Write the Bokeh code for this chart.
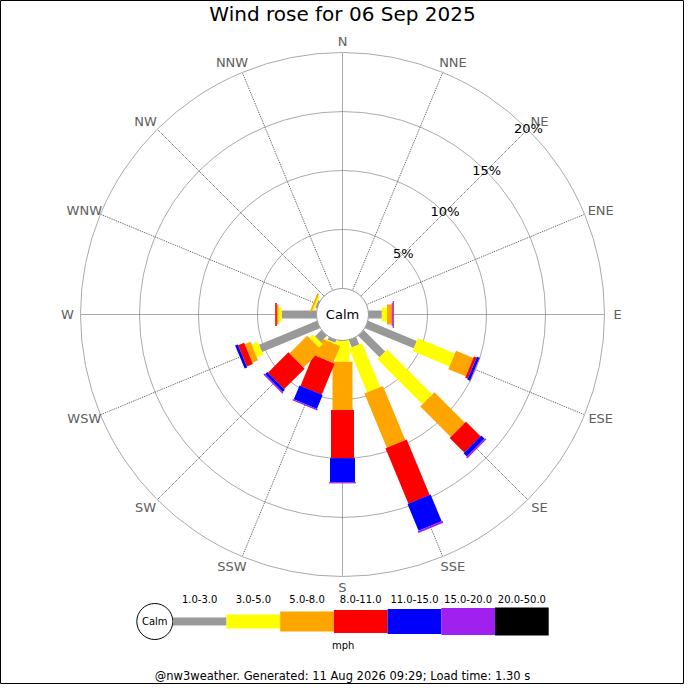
import math
from bokeh.plotting import figure
from bokeh.models import Range1d, ColumnDataSource
from bokeh.embed import file_html
from bokeh.resources import INLINE
from bokeh.core.properties import value

# ---------------- data ----------------
title_text = "Wind rose for 06 Sep 2025"
directions = ["N", "NNE", "NE", "ENE", "E", "ESE", "SE", "SSE",
              "S", "SSW", "SW", "WSW", "W", "WNW", "NW", "NNW"]
band_labels = ["1.0-3.0", "3.0-5.0", "5.0-8.0", "8.0-11.0",
               "11.0-15.0", "15.0-20.0", "20.0-50.0"]
band_colors = ["#999999", "#ffff00", "#ffa500", "#ff0000",
               "#0000ff", "#a020f0", "#000000"]

# percentage of time, per direction (N..NNW), per speed band (mph)
b_1_3 = [0, 0, 0, 0, 1.13, 4.47, 2.57, 0.68, 0.04, 0.25, 0.76, 5.31, 2.94, 0.15, 0, 0]
b_3_5 = [0, 0, 0, 0, 0.44, 3.39, 5.40, 4.02, 1.76, 0.10, 0.43, 0.58, 0.28, 0.15, 0, 0]
b_5_8 = [0, 0, 0, 0, 0.40, 1.59, 3.65, 4.96, 4.10, 1.55, 2.12, 0.53, 0.14, 0.15, 0, 0]
b_8_11 = [0, 0, 0, 0, 0.08, 0.24, 1.74, 5.09, 4.07, 2.85, 2.45, 0.55, 0.14, 0, 0, 0]
b_11_15 = [0, 0, 0, 0, 0, 0.24, 0.40, 2.45, 2.03, 1.27, 0.26, 0.24, 0, 0, 0, 0]
b_15_20 = [0, 0, 0, 0, 0.10, 0.03, 0.14, 0.17, 0.11, 0.12, 0.12, 0, 0, 0, 0, 0]
b_20_50 = [0, 0, 0, 0, 0, 0, 0, 0, 0, 0, 0, 0, 0, 0, 0, 0]
bands = [b_1_3, b_3_5, b_5_8, b_8_11, b_11_15, b_15_20, b_20_50]

ring_values = [5, 10, 15, 20]
ring_labels = ["5%", "10%", "15%", "20%"]
unit_label = "mph"
footer_text = "@nw3weather. Generated: 11 Aug 2026 09:29; Load time: 1.30 s"

# ---------------- geometry ----------------
W = H = 684
CX, CY = 342, 314           # centre of rose in figure pixels (from left / top)
PX = 11.8                   # pixels per percent
R0 = 26                     # calm circle radius (px)
thick = [8, 14, 20, 23, 25, 27, 29]
leg_thick = [8, 14, 20, 23, 25, 27, 28]
FONT = value("DejaVu Sans")


def rad(pct):
    return R0 + PX * pct


p = figure(width=W, height=H, output_backend="svg", toolbar_location=None,
           x_range=Range1d(-CX, W - CX), y_range=Range1d(-(H - CY), CY),
           min_border=0)
p.xaxis.visible = False
p.yaxis.visible = False
p.grid.visible = False
p.background_fill_color = "white"
p.border_fill_color = "white"
p.outline_line_color = "black"
p.outline_line_width = 1

rmax = rad(ring_values[-1])

# rings
p.circle(x=[0] * len(ring_values), y=[0] * len(ring_values),
         radius=[rad(v) for v in ring_values],
         fill_color=None, line_color="#aaaaaa", line_width=1)

# spokes
angs = [math.radians(22.5 * i) for i in range(len(directions))]
p.segment(x0=[R0 * math.sin(a) for a in angs], y0=[R0 * math.cos(a) for a in angs],
          x1=[rmax * math.sin(a) for a in angs], y1=[rmax * math.cos(a) for a in angs],
          line_color="#555555", line_width=1, line_dash="1 1")

# bars
bx, by, bw, bh, ba, bc = [], [], [], [], [], []
for i, a in enumerate(angs):
    cum = 0.0
    for k, band in enumerate(bands):
        v = band[i]
        if v <= 0:
            continue
        rs, re = rad(cum), rad(cum + v)
        rm = (rs + re) / 2
        bx.append(rm * math.sin(a))
        by.append(rm * math.cos(a))
        bw.append(re - rs)
        bh.append(thick[k])
        ba.append(math.pi / 2 - a)
        bc.append(band_colors[k])
        cum += v
p.rect(x="x", y="y", width="w", height="h", angle="a", fill_color="c",
       line_color=None,
       source=ColumnDataSource(dict(x=bx, y=by, w=bw, h=bh, a=ba, c=bc)))

# calm circle
p.circle(x=[0], y=[0], radius=[R0], fill_color="white", line_color="#999999")
p.text(x=[0], y=[0], text=["Calm"], text_font=FONT, text_font_size="13px",
       text_align="center", text_baseline="middle", text_color="black")

# direction labels
RL = 273
lx, ly = [], []
for d, a in zip(directions, angs):
    s = math.sin(a)
    off = 0 if abs(s) < 0.01 else math.copysign(2 * len(d), s)
    lx.append(RL * s + off)
    ly.append(RL * math.cos(a))
p.text(x=lx, y=ly, text=directions, text_font=FONT, text_font_size="13px",
       text_align="center", text_baseline="middle", text_color="#606060")

# ring labels along NE
ne = math.radians(45)
p.text(x=[(rad(v) + 1) * math.sin(ne) for v in ring_values],
       y=[(rad(v) + 1) * math.cos(ne) for v in ring_values],
       text=ring_labels, text_font=FONT, text_font_size="13px",
       text_align="center", text_baseline="middle", text_color="black")

# title
p.text(x=[0], y=[CY - 13], text=[title_text], text_font=FONT, text_font_size="20px",
       text_align="center", text_baseline="middle", text_color="black")

# legend
LY = -307
lcx, lr = -187.7, 18
p.circle(x=[lcx], y=[LY], radius=[lr], fill_color="white", line_color="black")
p.text(x=[lcx], y=[LY], text=["Calm"], text_font=FONT, text_font_size="10px",
       text_align="center", text_baseline="middle", text_color="black")
seg_w = 53.7
x_start = lcx + lr
lgx = [x_start + seg_w * (k + 0.5) for k in range(len(band_labels))]
p.rect(x=lgx, y=[LY] * len(lgx), width=[seg_w] * len(lgx), height=leg_thick,
       fill_color=band_colors, line_color=None)
p.text(x=lgx, y=[LY + 22.3] * len(lgx), text=band_labels, text_font=FONT,
       text_font_size="10px", text_align="center", text_baseline="middle",
       text_color="black")
p.text(x=[0.7], y=[LY - 24], text=[unit_label], text_font=FONT, text_font_size="10px",
       text_align="center", text_baseline="middle", text_color="black")

# footer
p.text(x=[0], y=[-(H - CY) + 9], text=[footer_text], text_font=FONT,
       text_font_size="11.5px", text_align="center", text_baseline="middle",
       text_color="black")

open("out.html", "w").write(file_html(p, INLINE))
